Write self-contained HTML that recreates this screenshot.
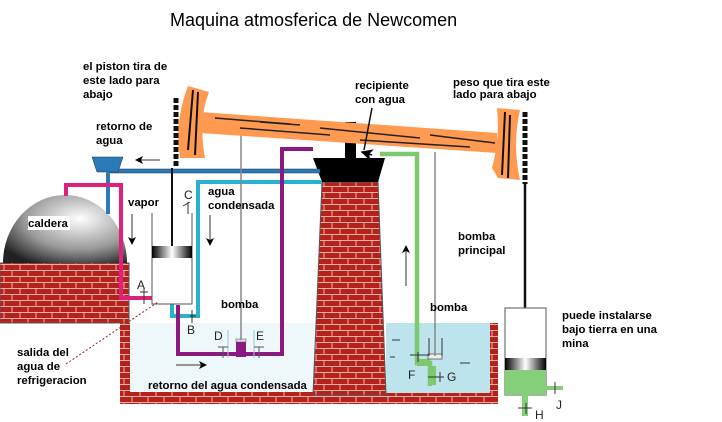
<!DOCTYPE html>
<html><head><meta charset="utf-8"><style>
html,body{margin:0;padding:0;background:#fff;width:722px;height:422px;overflow:hidden}
svg{display:block}
text{font-family:"Liberation Sans",Arial,sans-serif}
.l{font-size:11.4px;font-weight:bold;fill:#000}
.s{font-size:12px;fill:#222}
</style></head><body>
<svg width="722" height="422" viewBox="0 0 722 422" xmlns="http://www.w3.org/2000/svg">
<defs>
<pattern id="br" width="16" height="12" patternUnits="userSpaceOnUse">
<rect width="16" height="12" fill="#b5221c"/>
<path d="M0 0.5H16M0 6.5H16M4 0V6M12 6V12" stroke="#f0b0a8" stroke-width="1" fill="none"/>
</pattern>
<radialGradient id="dome" cx="0.62" cy="0.35" r="0.75">
<stop offset="0" stop-color="#fff"/><stop offset="0.6" stop-color="#999"/><stop offset="1" stop-color="#222"/>
</radialGradient>
<linearGradient id="pis" x1="0" x2="1">
<stop offset="0" stop-color="#000"/><stop offset="0.5" stop-color="#fff"/><stop offset="1" stop-color="#000"/>
</linearGradient>
<marker id="ah" markerWidth="8" markerHeight="8" refX="7" refY="4" orient="auto"><path d="M0 0L8 4L0 8L2 4Z" fill="#000"/></marker>
</defs>

<text x="170" y="26" style="font-size:18px" fill="#000">Maquina atmosferica de Newcomen</text>

<!-- pools -->
<rect x="130" y="323" width="185" height="70" fill="#eef7fa"/>
<rect x="386" y="323" width="104" height="72" fill="#bde4ec"/>
<!-- bricks -->
<rect x="0" y="263" width="129" height="60" fill="url(#br)" stroke="#555"/>
<path d="M120 323H130V392H315V395H120Z" fill="url(#br)"/>
<rect x="120" y="393" width="378" height="11" fill="url(#br)"/>
<rect x="490" y="323" width="8" height="75" fill="url(#br)"/>
<path d="M322 182H378L386 395H313Z" fill="url(#br)" stroke="#555"/>
<!-- boiler -->
<path d="M3 263A62 68 0 0 1 127 263Z" fill="url(#dome)"/>
<rect x="28" y="216" width="42" height="14" fill="#fff"/>
<text class="l" x="28" y="227">caldera</text>

<!-- chimney top -->
<path d="M313 158H385L378 182H322Z" fill="#000"/>
<rect x="345" y="122" width="11" height="38" fill="#000"/>

<!-- blue top pipe -->
<rect x="107" y="169" width="213" height="4" fill="#2a7ab8" stroke="#234" stroke-width="0.5"/>
<path d="M92 157H123L118 172H97Z" fill="#2a7ab8" stroke="#234" stroke-width="0.5"/>
<rect x="106" y="172" width="4" height="42" fill="#2a7ab8"/>
<!-- pink -->
<path d="M66 196V185H121V298H152" fill="none" stroke="#e0207a" stroke-width="4"/>
<!-- light blue -->
<path d="M322 182H198V316H172V302" fill="none" stroke="#2bb0d0" stroke-width="4"/>
<path d="M158 297H182L178 302H162Z" fill="#2bb0d0"/>
<!-- purple -->
<path d="M313 149H282V354H178V305" fill="none" stroke="#8a1a80" stroke-width="4"/>
<rect x="236" y="340" width="10" height="17" fill="#8a1a80"/>
<rect x="236" y="339" width="10" height="3" fill="#ddd" stroke="#555" stroke-width="0.5"/>
<path d="M228 330V358M254 330V358" stroke="#9cc" stroke-width="1"/>
<path d="M218 347H228M223 347V358M254 347H264M259 347V358" stroke="#555" fill="none"/>
<!-- green -->
<path d="M380 154H417V363H430V386" fill="none" stroke="#7ec870" stroke-width="4.5"/>
<path d="M417 359V366H436V385H430V359Z" fill="#7ec870"/>
<rect x="428" y="354" width="14" height="5" fill="#eee" stroke="#444" stroke-width="0.7"/>
<path d="M429 338V356M442 338V356" stroke="#333"/>
<path d="M410 355H428M418 352V362M428 377H444M440 372V382" stroke="#333" fill="none"/>

<!-- cylinder -->
<path d="M152 213V304H192V213" fill="#fff" stroke="#555"/>
<rect x="152" y="246" width="40" height="12" fill="url(#pis)"/>
<path d="M140 292H148M144 287V304M190 316H196M192 310V323" stroke="#333"/>
<path d="M183 206L190 202M188 202V214" stroke="#333"/>

<!-- gray rods -->
<path d="M241 135V340M435 152V356" stroke="#888" stroke-width="1.5"/>

<!-- beam -->
<path d="M200 112L497 133L497 153L200 133Z" fill="#ff9a50"/>
<path d="M215 118L290 124M240 128L330 135M320 128L420 138M360 140L470 147M430 135L495 143M260 122L300 125" stroke="#222" stroke-width="1.5"/>
<path d="M188 86L209 92Q198 120 205 158L180 158Q174 122 188 86Z" fill="#ff9a50"/>
<path d="M193 90L188 150M198 92L195 155" stroke="#111" stroke-width="2"/>
<path d="M497 108L520 110Q512 145 520 180L498 178L492 168Q500 140 497 108Z" fill="#ff9a50"/>
<path d="M505 112L502 175M510 115L508 178" stroke="#111" stroke-width="2"/>
<!-- chains -->
<path d="M176 98V168" stroke="#111" stroke-width="5" stroke-dasharray="5 2"/>
<path d="M172 168V246" stroke="#111" stroke-width="2"/>
<path d="M525 112V184" stroke="#111" stroke-width="5" stroke-dasharray="5 2"/>
<path d="M525 184V358" stroke="#111" stroke-width="2.5"/>

<!-- right cylinder -->
<path d="M505 308H546V395H505Z" fill="#fff" stroke="#555"/>
<rect x="505" y="370" width="41" height="25" fill="#86cf7a"/>
<rect x="505" y="358" width="41" height="12" fill="url(#pis)"/>
<rect x="546" y="386" width="17" height="4" fill="#86cf7a"/>
<rect x="522" y="395" width="6" height="21" fill="#86cf7a"/>
<path d="M555 382V394M518 408H532M526 403V414" stroke="#333"/>

<!-- arrows -->
<path d="M160 160H136" stroke="#333" marker-end="url(#ah)"/>
<path d="M132 214V244" stroke="#333" marker-end="url(#ah)"/>
<path d="M210 215V245" stroke="#333" marker-end="url(#ah)"/>
<path d="M406 286V246" stroke="#333" marker-end="url(#ah)"/>
<path d="M176 365H206" stroke="#333" marker-end="url(#ah)"/>
<path d="M372 155L362 152" stroke="#111" stroke-width="1.5" marker-end="url(#ah)"/>
<path d="M372 108L364 150" stroke="#111" stroke-width="1.5"/>
<path d="M66 364L158 302" stroke="#a02020" stroke-dasharray="2 2"/>
<path d="M392 340H400M390 357H395M460 363H470" stroke="#333"/>

<!-- labels -->
<text class="l" x="83" y="70">el piston tira de</text>
<text class="l" x="83" y="84">este lado para</text>
<text class="l" x="83" y="98">abajo</text>
<text class="l" x="96" y="130">retorno de</text>
<text class="l" x="96" y="144">agua</text>
<text class="l" x="128" y="206">vapor</text>
<text class="l" x="208" y="195">agua</text>
<text class="l" x="208" y="209">condensada</text>
<text class="l" x="221" y="308">bomba</text>
<text class="l" x="355" y="89">recipiente</text>
<text class="l" x="355" y="103">con agua</text>
<text class="l" x="453" y="86">peso que tira este</text>
<text class="l" x="453" y="98">lado para abajo</text>
<text class="l" x="458" y="240">bomba</text>
<text class="l" x="458" y="254">principal</text>
<text class="l" x="430" y="311">bomba</text>
<text class="l" x="562" y="319">puede instalarse</text>
<text class="l" x="562" y="333">bajo tierra en una</text>
<text class="l" x="562" y="347">mina</text>
<text class="l" x="17" y="356">salida del</text>
<text class="l" x="17" y="370">agua de</text>
<text class="l" x="17" y="384">refrigeracion</text>
<text class="l" x="148" y="389">retorno del agua condensada</text>
<text class="s" x="137" y="289">A</text>
<text class="s" x="187" y="334">B</text>
<text class="s" x="184" y="199">C</text>
<text class="s" x="214" y="340">D</text>
<text class="s" x="256" y="340">E</text>
<text class="s" x="408" y="379">F</text>
<text class="s" x="447" y="381">G</text>
<text class="s" x="535" y="419">H</text>
<text class="s" x="556" y="409">J</text>
</svg>
</body></html>
